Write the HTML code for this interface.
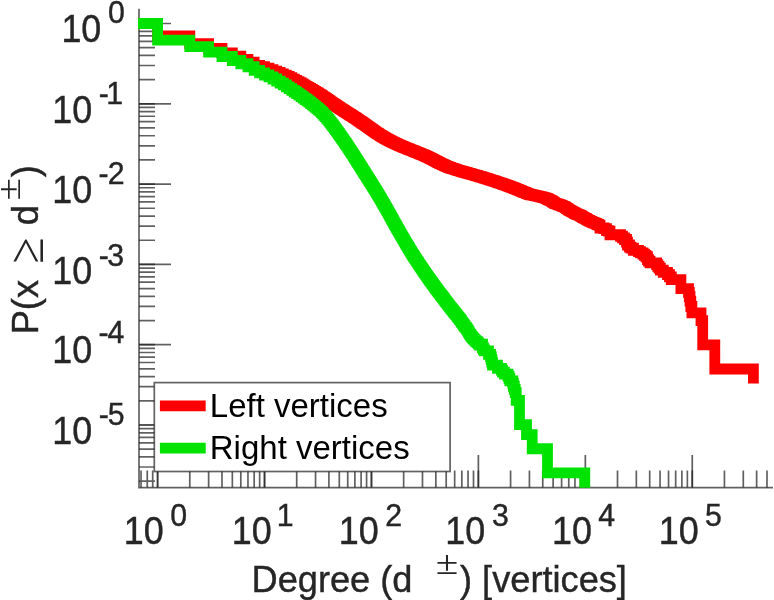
<!DOCTYPE html>
<html><head><meta charset="utf-8"><style>
html,body{margin:0;padding:0;background:#fff;}
svg{display:block;will-change:transform;}
</style></head><body>
<svg width="774" height="600" viewBox="0 0 774 600">
<defs><filter id="bl" x="-5%" y="-5%" width="110%" height="110%"><feGaussianBlur stdDeviation="0.35"/></filter><clipPath id="ax"><rect x="138" y="8.7" width="635.0" height="479.1"/></clipPath></defs>
<rect width="774" height="600" fill="#fff"/>
<path d="M139.0 8.7V487.6H773.0" fill="none" stroke="#262626" stroke-width="1.7" stroke-opacity="0.72" filter="url(#bl)"/>
<path d="M139 23.5h16M139 103.8h16M139 79.63h16M139 65.49h16M139 55.45h16M139 47.67h16M139 41.31h16M139 35.94h16M139 31.28h16M139 27.17h16M139 184.1h16M139 159.93h16M139 145.79h16M139 135.75h16M139 127.97h16M139 121.61h16M139 116.24h16M139 111.58h16M139 107.47h16M139 264.4h16M139 240.23h16M139 226.09h16M139 216.05h16M139 208.27h16M139 201.91h16M139 196.54h16M139 191.88h16M139 187.77h16M139 344.7h16M139 320.53h16M139 306.39h16M139 296.35h16M139 288.57h16M139 282.21h16M139 276.84h16M139 272.18h16M139 268.07h16M139 425h16M139 400.83h16M139 386.69h16M139 376.65h16M139 368.87h16M139 362.51h16M139 357.14h16M139 352.48h16M139 348.37h16M139 481.13h16M139 466.99h16M139 456.95h16M139 449.17h16M139 442.81h16M139 437.44h16M139 432.78h16M139 428.67h16M141.04 487.6v-17M147.24 487.6v-17M152.71 487.6v-17M157.6 487.6v-17M189.79 487.6v-17M208.62 487.6v-17M221.98 487.6v-17M232.34 487.6v-17M240.81 487.6v-17M247.97 487.6v-17M254.17 487.6v-17M259.64 487.6v-17M264.53 487.6v-17M296.72 487.6v-17M315.55 487.6v-17M328.91 487.6v-17M339.27 487.6v-17M347.74 487.6v-17M354.9 487.6v-17M361.1 487.6v-17M366.57 487.6v-17M371.46 487.6v-17M403.65 487.6v-17M422.48 487.6v-17M435.84 487.6v-17M446.2 487.6v-17M454.67 487.6v-17M461.83 487.6v-17M468.03 487.6v-17M473.5 487.6v-17M478.39 487.6v-17M510.58 487.6v-17M529.41 487.6v-17M542.77 487.6v-17M553.13 487.6v-17M561.6 487.6v-17M568.76 487.6v-17M574.96 487.6v-17M580.43 487.6v-17M585.32 487.6v-17M617.51 487.6v-17M636.34 487.6v-17M649.7 487.6v-17M660.06 487.6v-17M668.53 487.6v-17M675.69 487.6v-17M681.89 487.6v-17M687.36 487.6v-17M692.25 487.6v-17M724.44 487.6v-17M743.27 487.6v-17M756.63 487.6v-17M766.99 487.6v-17" fill="none" stroke="#262626" stroke-width="1.7" stroke-opacity="0.72" filter="url(#bl)"/>
<path d="M139 23.5h32M139 103.8h32M139 184.1h32M139 264.4h32M139 344.7h32M139 425h32M157.6 487.6v-32.5M264.53 487.6v-32.5M371.46 487.6v-32.5M478.39 487.6v-32.5M585.32 487.6v-32.5M692.25 487.6v-32.5" fill="none" stroke="#262626" stroke-width="1.7" stroke-opacity="0.72" filter="url(#bl)"/>
<g clip-path="url(#ax)" fill="none" stroke-width="10.8" stroke-linejoin="miter" stroke-linecap="butt">
<path d="M120 23.5H157.6V35.8H189.79V43.7H208.62V48.5H221.98V52.9H232.34V56.1H240.81V59.4H247.97V62.2H254.17V65.4H259.64V66.65H264.53V68.23H268.96V69.68H273V71.06H276.71V72.41H280.16V73.78H283.36V75.16H286.36V76.47H289.17V77.73H291.83V79.03H294.34V80.28H296.72V81.55H298.98V82.77H301.15V84H303.21V85.17H305.19V86.31H307.08V87.41H308.9V88.46H310.66V89.49H312.34V90.46H313.97V91.41H315.55V92.33H317.07V93.23H318.55V94.1H319.97V94.99H321.36V95.91H322.71V96.81H324.02V97.67H325.29V98.54H326.53V99.39H327.73V100.21H328.91V101.02H330.05V101.8H331.17V102.56H332.27V103.31H333.33V104.03H334.38V104.74H335.4V105.42H336.4V106.07H337.38V106.7H338.33V107.33H339.27V107.95H340.19V108.54H341.09V109.11H341.98V109.68H342.84V110.22H343.7V110.76H344.53V111.3H345.36V111.82H346.16V112.32H346.96V112.82H347.74V113.31H348.51V113.8H349.26V114.29H350V114.76H350.73V115.24H351.45V115.7H352.16V116.14H352.86V116.62H353.56V117.07H354.26V117.51H354.96V117.97H355.66V118.44H356.36V118.92H357.06V119.38H357.76V119.85H358.46V120.32H359.16V120.8H359.86V121.28H360.56V121.77H361.26V122.24H361.96V122.74H362.66V123.23H363.36V123.71H364.06V124.18H364.76V124.68H365.46V125.19H366.16V125.68H366.86V126.2H367.56V126.7H368.26V127.2H368.96V127.72H369.66V128.2H370.36V128.7H371.06V129.2H371.76V129.71H372.46V130.18H373.16V130.71H373.86V131.2H374.56V131.7H375.26V132.16H375.96V132.6H376.66V133.08H377.36V133.52H378.06V133.97H378.76V134.43H379.46V134.89H380.16V135.32H380.86V135.75H381.56V136.14H382.26V136.59H382.96V136.99H383.66V137.4H384.36V137.81H385.06V138.23H385.76V138.6H386.46V138.98H387.16V139.36H387.86V139.75H388.56V140.14H389.26V140.49H389.96V140.89H390.66V141.24H391.36V141.55H392.06V141.91H392.76V142.28H393.46V142.59H394.16V142.96H394.86V143.28H395.56V143.61H396.26V143.94H396.96V144.27H397.66V144.55H398.36V144.88H399.06V145.17H399.76V145.51H400.46V145.8H401.16V146.09H401.86V146.38H402.56V146.68H403.26V146.98H403.96V147.28H404.66V147.58H405.36V147.89H406.06V148.13H406.76V148.45H407.46V148.7H408.16V149.01H408.86V149.27H409.56V149.59H410.26V149.85H410.96V150.11H411.66V150.44H412.36V150.7H413.06V150.97H413.76V151.24H414.46V151.51H415.16V151.79H415.86V152.06H416.56V152.34H417.26V152.62H417.96V152.91H418.66V153.19H419.36V153.48H420.06V153.77H420.76V154.06H421.46V154.36H422.16V154.65H422.86V154.95H423.56V155.18H424.26V155.49H424.96V155.79H425.66V156.18H426.36V156.49H427.06V156.81H427.76V157.13H428.46V157.45H429.16V157.86H429.86V158.19H430.56V158.52H431.26V158.85H431.96V159.19H432.66V159.62H433.36V159.97H434.06V160.32H434.76V160.67H435.46V161.03H436.16V161.39H436.86V161.75H437.56V162.12H438.26V162.49H438.96V162.87H439.66V163.25H440.36V163.54H441.06V163.92H441.76V164.22H442.46V164.51H443.16V164.91H443.86V165.21H444.56V165.52H445.26V165.82H445.96V166.13H446.66V166.45H447.36V166.66H448.06V166.98H448.76V167.3H449.46V167.51H450.16V167.73H450.86V168.06H451.56V168.28H452.26V168.5H452.96V168.72H453.66V168.94H454.36V169.17H455.06V169.4H455.76V169.63H456.46V169.86H457.16V170.09H457.86V170.32H458.56V170.56H459.26V170.67H459.96V170.91H460.66V171.15H461.36V171.39H462.06V171.51H462.76V171.75H463.46V172H464.16V172.12H464.86V172.37H465.56V172.49H466.26V172.74H466.96V172.87H467.66V173.12H468.36V173.38H469.06V173.5H469.76V173.76H470.46V173.89H471.16V174.15H471.86V174.28H472.56V174.55H473.26V174.68H473.96V174.94H474.66V175.08H475.36V175.35H476.06V175.48H476.76V175.75H477.46V175.89H478.16V176.17H478.86V176.31H479.56V176.59H480.26V176.73H480.96V177.01H481.66V177.15H482.36V177.44H483.06V177.58H483.76V177.87H484.46V178.01H485.16V178.31H485.86V178.46H486.56V178.75H487.26V178.9H487.96V179.2H488.66V179.35H489.36V179.66H490.06V179.81H490.76V180.12H491.46V180.28H492.16V180.43H492.86V180.75H493.56V180.9H494.26V181.22H494.96V181.38H495.66V181.71H496.36V181.87H497.06V182.03H497.76V182.36H498.46V182.53H499.16V182.86H499.86V183.03H500.56V183.2H501.26V183.54H501.96V183.71H502.66V184.05H503.36V184.23H504.06V184.58H504.76V184.75H505.46V184.93H506.16V185.29H506.86V185.47H507.56V185.83H508.26V186.02H508.96V186.2H509.66V186.57H510.36V186.76H511.06V187.14H511.76V187.33H512.46V187.52H513.16V187.9H513.86V188.1H514.56V188.49H515.26V188.69H515.96V188.88H516.66V189.28H517.36V189.49H518.06V189.89H518.76V190.1H519.46V190.31H520.16V190.73H520.86V190.94H521.56V191.36H522.26V191.58H522.96V191.79H523.66V192.23H524.36V192.45H525.06V192.67H525.76V192.89H526.46V193.34H527.16V193.57H527.86V193.8H528.56V194.03H529.26V194.26H529.96V194.49H530.66V194.73H532.06V194.96H532.76V195.2H534.16V195.44H534.86V195.68H536.26V195.93H537.66V196.17H538.36V196.42H539.76V196.67H540.46V196.92H541.86V197.17H542.56V197.42H543.26V197.68H544.66V197.93H545.36V198.19H546.06V198.45H546.76V198.72H547.46V198.98H548.16V199.52H548.86V199.79H549.56V200.06H550.26V200.34H550.96V200.9H551.66V201.18H552.36V201.75H553.06V202.04H553.76V202.63H554.46V203.22H555.16V203.53H556.56V203.83H557.26V204.14H557.96V204.45H558.66V204.76H560.06V205.08H560.76V205.39H561.46V205.72H562.16V206.04H562.86V206.37H563.56V206.7H564.96V207.37H565.66V207.71H566.36V208.4H567.06V208.75H567.76V209.1H568.46V209.82H569.16V210.19H569.86V210.56H570.56V210.93H571.26V211.31H571.96V211.69H572.66V212.07H573.36V212.46H574.06V212.86H574.76V213.26H575.46V213.66H576.16V214.07H577.56V214.48H578.26V214.9H579.66V215.32H580.36V215.75H581.06V216.18H581.76V216.62H582.46V217.06H583.16V217.51H583.86V217.97H584.56V218.43H585.96V218.9H586.66V219.38H587.36V219.86H588.06V220.34H589.46V220.84H590.16V221.34H591.56V221.85H592.26V222.37H593.66V222.89H595.06V223.42H596.46V223.96H597.16V224.51H598.56V225.07H600V228H604V228.62H606.5V230.54H608.5V231.2H610V234.73H620.5V236.25H622.5V237.83H624.5V239.49H626.5V242.14H627.5V245.01H629.5V247.06H631V248.14H633.5V250.39H638.5V251.57H640.5V252.79H643V254.06H644.5V255.38H646V256.75H647.5V259.65H648.5V261.2H650V262.83H656.6V264.53H657.8V266.32H659V268.2H660.4V270.19H663.3V272.31H667.5V274.56H669.5V276.97H671.3V279.55H680.9V288.7H688.5V292.37H689.3V296.48H690V301.14H690.8V306.51H691.9V312.87H701V320.65H702.7V344.83H714.8V369H753.4V383.6" stroke="#ff0000"/>
<path d="M120 23.5H157.6V40.1H189.79V46.65H208.62V52.1H221.98V56.5H232.34V60.5H240.81V63.75H247.97V66.75H254.17V70.3H259.64V72.9H264.53V75H268.96V76.91H273V79.02H276.71V81.06H280.16V83.04H283.36V84.97H286.36V86.84H289.17V88.64H291.83V90.36H294.34V92.01H296.72V93.59H298.98V95.15H301.15V96.64H303.21V98.08H305.19V99.51H307.08V100.88H308.9V102.2H310.66V103.54H312.34V104.84H313.97V106.09H315.55V107.33H317.07V108.66H318.55V109.95H319.97V111.2H321.36V112.43H322.71V113.88H324.02V115.3H325.29V116.67H326.53V118.01H327.73V119.39H328.91V120.9H330.05V122.38H331.17V123.82H332.27V125.23H333.33V126.6H334.38V128.03H335.4V129.45H336.4V130.83H337.38V132.19H338.33V133.51H339.27V134.81H340.19V136.12H341.09V137.41H341.98V138.67H342.84V139.92H343.7V141.14H344.53V142.33H345.36V143.51H346.16V144.7H346.96V145.88H347.74V147.05H348.51V148.19H349.26V149.32H350V150.43H350.73V151.52H351.45V152.59H352.16V153.69H352.86V154.79H353.56V155.9H354.26V157H354.96V158.11H355.66V159.21H356.36V160.31H357.06V161.42H357.76V162.52H358.46V163.63H359.16V164.75H359.86V165.85H360.56V166.97H361.26V168.08H361.96V169.19H362.66V170.3H363.36V171.41H364.06V172.52H364.76V173.62H365.46V174.72H366.16V175.82H366.86V176.92H367.56V178.02H368.26V179.12H368.96V180.23H369.66V181.33H370.36V182.45H371.06V183.57H371.76V184.69H372.46V185.8H373.16V186.92H373.86V188.04H374.56V189.17H375.26V190.29H375.96V191.43H376.66V192.6H377.36V193.78H378.06V194.94H378.76V196.12H379.46V197.3H380.16V198.46H380.86V199.64H381.56V200.81H382.26V202.04H382.96V203.27H383.66V204.5H384.36V205.75H385.06V206.98H385.76V208.21H386.46V209.45H387.16V210.68H387.86V211.93H388.56V213.19H389.26V214.45H389.96V215.72H390.66V216.99H391.36V218.23H392.06V219.5H392.76V220.77H393.46V222.03H394.16V223.28H394.86V224.53H395.56V225.76H396.26V227H396.96V228.24H397.66V229.48H398.36V230.7H399.06V231.97H399.76V233.21H400.46V234.42H401.16V235.6H401.86V236.82H402.56V238.04H403.26V239.22H403.96V240.44H404.66V241.66H405.36V242.88H406.06V244.04H406.76V245.19H407.46V246.33H408.16V247.51H408.86V248.67H409.56V249.81H410.26V251H410.96V252.16H411.66V253.3H412.36V254.34H413.06V255.48H413.76V256.52H414.46V257.6H415.16V258.7H415.86V259.77H416.56V260.87H417.26V261.92H417.96V263.01H418.66V264.04H419.36V265.11H420.06V266.11H420.76V267.15H421.46V268.22H422.16V269.21H422.86V270.24H423.56V271.3H424.26V272.29H424.96V273.3H425.66V274.34H426.36V275.29H427.06V276.39H427.76V277.28H428.46V278.31H429.16V279.38H429.86V280.35H430.56V281.34H431.26V282.21H431.96V283.25H432.66V284.18H433.36V285.12H434.06V286.1H434.76V287.1H435.46V288.13H436.16V289.01H436.86V289.92H437.56V290.85H438.26V291.8H438.96V292.78H439.66V293.59H440.36V294.63H441.06V295.48H441.76V296.35H442.46V297.24H443.16V298.16H443.86V299.1H444.56V300.07H445.26V301.07H445.96V301.83H446.66V302.88H447.36V303.69H448.06V304.8H448.76V305.65H449.46V306.53H450.16V307.43H450.86V308.35H451.56V309.29H452.26V309.94H452.96V310.93H453.66V311.95H454.36V312.65H455.06V313.72H455.76V314.46H456.46V315.21H457.16V316.36H457.86V317.16H458.56V317.97H459.26V318.8H459.96V319.65H460.66V320.52H461.36V321.87H462.06V322.8H462.76V323.76H463.46V324.74H464.16V325.75H464.86V326.79H465.56V327.32H466.26V328.41H466.96V329.54H467.66V330.7H468.36V331.9H469.06V333.15H469.76V334.44H470.46V335.1H471.16V336.47H471.86V337.18H472.56V337.9H473.26V338.63H473.96V339.38H474.66V340.15H475.36V340.93H476.06V341.73H477.46V342.55H478.16V343.39H478.86V344.25H479.56V345.14H480V344.25H482.5V347.93H483.5V349.92H484.5V350.96H488.5V354.29H490.5V356.69H491.2V359.28H491.8V362.07H492.5V365.1H497.5V368.43H501.5V370.22H502.5V372.1H504.5V374.09H508V376.21H509V378.46H509.8V380.87H512.8V383.45H513.4V386.24H514.3V389.28H515.2V392.6H516.2V400.38H519.5V424.55H526.5V434.59H532.2V448.73H547.5V472.9H584.8V520" stroke="#00e300"/>
</g>
<text transform="translate(61.42 41.5) scale(0.97 1.04)" font-size="37" fill="#262626" font-family='"Liberation Sans",sans-serif' stroke="#262626" stroke-width="0.4">10</text>
<text transform="translate(107.92 22.9) scale(1 1.03)" font-size="30.3" fill="#262626" font-family='"Liberation Sans",sans-serif' stroke="#262626" stroke-width="0.4">0</text>
<text transform="translate(52.27 122.5) scale(0.97 1.04)" font-size="37" fill="#262626" font-family='"Liberation Sans",sans-serif' stroke="#262626" stroke-width="0.4">10</text>
<text transform="translate(98.86 103.5) scale(1 1.03)" font-size="30.3" fill="#262626" font-family='"Liberation Sans",sans-serif' stroke="#262626" stroke-width="0.4">-</text>
<text transform="translate(106.26 103.5) scale(1 1.03)" font-size="30.3" fill="#262626" font-family='"Liberation Sans",sans-serif' stroke="#262626" stroke-width="0.4">1</text>
<text transform="translate(52.27 203.3) scale(0.97 1.04)" font-size="37" fill="#262626" font-family='"Liberation Sans",sans-serif' stroke="#262626" stroke-width="0.4">10</text>
<text transform="translate(98.56 184.2) scale(1 1.03)" font-size="30.3" fill="#262626" font-family='"Liberation Sans",sans-serif' stroke="#262626" stroke-width="0.4">-</text>
<text transform="translate(107.82 184.2) scale(1 1.03)" font-size="30.3" fill="#262626" font-family='"Liberation Sans",sans-serif' stroke="#262626" stroke-width="0.4">2</text>
<text transform="translate(52.27 284.4) scale(0.97 1.04)" font-size="37" fill="#262626" font-family='"Liberation Sans",sans-serif' stroke="#262626" stroke-width="0.4">10</text>
<text transform="translate(98.86 265.6) scale(1 1.03)" font-size="30.3" fill="#262626" font-family='"Liberation Sans",sans-serif' stroke="#262626" stroke-width="0.4">-</text>
<text transform="translate(107.31 265.6) scale(1 1.03)" font-size="30.3" fill="#262626" font-family='"Liberation Sans",sans-serif' stroke="#262626" stroke-width="0.4">3</text>
<text transform="translate(52.27 362.8) scale(0.97 1.04)" font-size="37" fill="#262626" font-family='"Liberation Sans",sans-serif' stroke="#262626" stroke-width="0.4">10</text>
<text transform="translate(98.56 343.4) scale(1 1.03)" font-size="30.3" fill="#262626" font-family='"Liberation Sans",sans-serif' stroke="#262626" stroke-width="0.4">-</text>
<text transform="translate(107.57 343.4) scale(1 1.03)" font-size="30.3" fill="#262626" font-family='"Liberation Sans",sans-serif' stroke="#262626" stroke-width="0.4">4</text>
<text transform="translate(52.27 443.7) scale(0.97 1.04)" font-size="37" fill="#262626" font-family='"Liberation Sans",sans-serif' stroke="#262626" stroke-width="0.4">10</text>
<text transform="translate(98.86 425.3) scale(1 1.03)" font-size="30.3" fill="#262626" font-family='"Liberation Sans",sans-serif' stroke="#262626" stroke-width="0.4">-</text>
<text transform="translate(107.85 425.3) scale(1 1.03)" font-size="30.3" fill="#262626" font-family='"Liberation Sans",sans-serif' stroke="#262626" stroke-width="0.4">5</text>
<text transform="translate(123.77 544.2) scale(0.97 1.04)" font-size="37" fill="#262626" font-family='"Liberation Sans",sans-serif' stroke="#262626" stroke-width="0.4">10</text>
<text transform="translate(170.37 525.8) scale(1 1.03)" font-size="30.3" fill="#262626" font-family='"Liberation Sans",sans-serif' stroke="#262626" stroke-width="0.4">0</text>
<text transform="translate(231.87 544.2) scale(0.97 1.04)" font-size="37" fill="#262626" font-family='"Liberation Sans",sans-serif' stroke="#262626" stroke-width="0.4">10</text>
<text transform="translate(276.76 525.8) scale(1 1.03)" font-size="30.3" fill="#262626" font-family='"Liberation Sans",sans-serif' stroke="#262626" stroke-width="0.4">1</text>
<text transform="translate(338.72 544.2) scale(0.97 1.04)" font-size="37" fill="#262626" font-family='"Liberation Sans",sans-serif' stroke="#262626" stroke-width="0.4">10</text>
<text transform="translate(385.27 525.8) scale(1 1.03)" font-size="30.3" fill="#262626" font-family='"Liberation Sans",sans-serif' stroke="#262626" stroke-width="0.4">2</text>
<text transform="translate(445.32 544.2) scale(0.97 1.04)" font-size="37" fill="#262626" font-family='"Liberation Sans",sans-serif' stroke="#262626" stroke-width="0.4">10</text>
<text transform="translate(491.96 525.8) scale(1 1.03)" font-size="30.3" fill="#262626" font-family='"Liberation Sans",sans-serif' stroke="#262626" stroke-width="0.4">3</text>
<text transform="translate(552.02 544.2) scale(0.97 1.04)" font-size="37" fill="#262626" font-family='"Liberation Sans",sans-serif' stroke="#262626" stroke-width="0.4">10</text>
<text transform="translate(598.22 525.8) scale(1 1.03)" font-size="30.3" fill="#262626" font-family='"Liberation Sans",sans-serif' stroke="#262626" stroke-width="0.4">4</text>
<text transform="translate(658.77 544.2) scale(0.97 1.04)" font-size="37" fill="#262626" font-family='"Liberation Sans",sans-serif' stroke="#262626" stroke-width="0.4">10</text>
<text transform="translate(704.9 525.8) scale(1 1.03)" font-size="30.3" fill="#262626" font-family='"Liberation Sans",sans-serif' stroke="#262626" stroke-width="0.4">5</text>
<text transform="translate(251.5 591.8) scale(1 1.04)" font-size="36.2" fill="#262626" font-family='"Liberation Sans",sans-serif' stroke="#262626" stroke-width="0.4">Degree (d</text>
<text transform="translate(435.68 573.85) scale(1.19 1)" font-size="34.5" fill="#262626" font-family='"Liberation Serif",serif'>±</text>
<text transform="translate(460 591.8) scale(1 1.04)" font-size="36.2" fill="#262626" font-family='"Liberation Sans",sans-serif' stroke="#262626" stroke-width="0.4">) [vertices]</text>
<g transform="translate(38.3 0) rotate(-90)"><text transform="translate(-334.3 0) scale(1 1.04)" font-size="36.2" fill="#262626" font-family='"Liberation Sans",sans-serif' stroke="#262626" stroke-width="0.4">P(x</text>
<text transform="translate(-263.39 5.1) scale(0.92 1)" font-size="51.6" fill="#262626" font-family='"Liberation Serif",serif'>≥</text>
<text transform="translate(-225.2 0) scale(1 1.04)" font-size="36.2" fill="#262626" font-family='"Liberation Sans",sans-serif' stroke="#262626" stroke-width="0.4">d</text>
<text transform="translate(-200.47 -18.4) scale(1.19 1)" font-size="34.5" fill="#262626" font-family='"Liberation Serif",serif'>±</text>
<text transform="translate(-177.3 0) scale(1 1.04)" font-size="36.2" fill="#262626" font-family='"Liberation Sans",sans-serif' stroke="#262626" stroke-width="0.4">)</text></g>
<rect x="154.3" y="382.6" width="295.8" height="88.9" fill="#fff" stroke="#262626" stroke-width="1.7" stroke-opacity="0.72" filter="url(#bl)"/>
<path d="M159.9 405.9H205.7" stroke="#ff0000" stroke-width="10.8"/>
<path d="M159.9 448.2H205.7" stroke="#00e300" stroke-width="10.8"/>
<text transform="translate(209.8 416.7) scale(1 1.01)" font-size="33" fill="#000" font-family='"Liberation Sans",sans-serif'>Left vertices</text>
<text transform="translate(209.8 458.8) scale(1 1.01)" font-size="33" fill="#000" font-family='"Liberation Sans",sans-serif'>Right vertices</text>
</svg>
</body></html>
